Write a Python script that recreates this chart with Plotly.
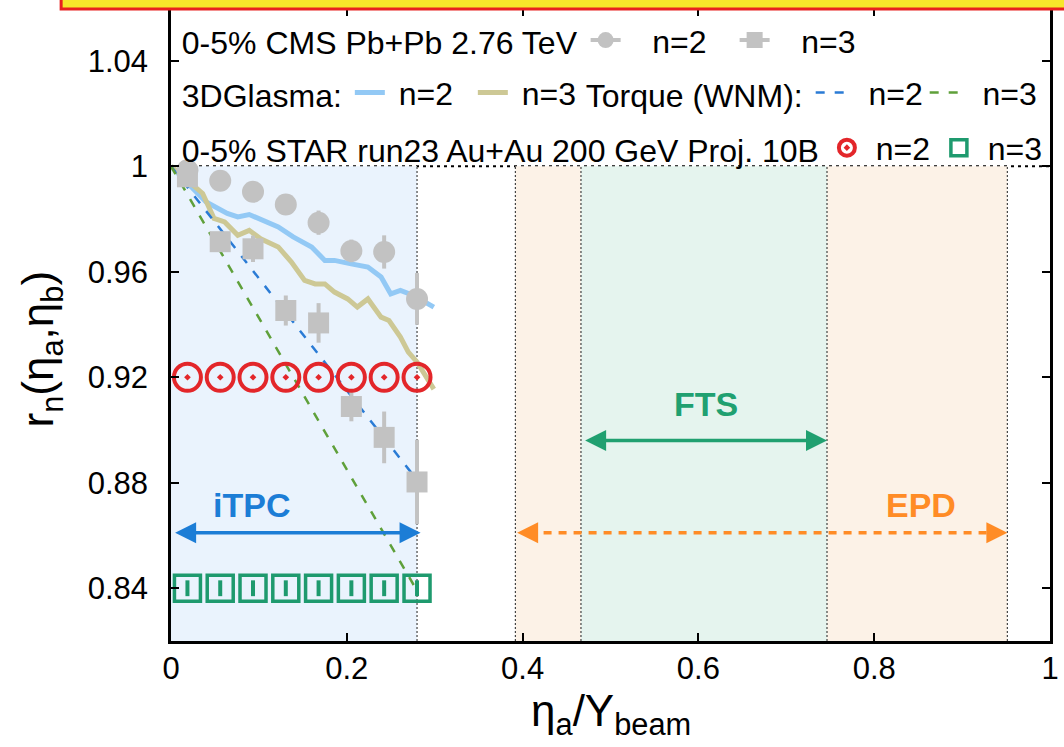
import plotly.graph_objects as go

# ---------------- data ----------------
eta_ratio = [0.0187, 0.0560, 0.0933, 0.1306, 0.1679, 0.2052, 0.2425, 0.2799]

cms_n2 = [0.9985, 0.9945, 0.9903, 0.9855, 0.9786, 0.9679, 0.9675, 0.9497]
cms_n2_err = [0.001, 0.001, 0.002, 0.002, 0.0046, 0.0043, 0.0063, 0.0098]
cms_n3 = [0.9960, 0.9714, 0.9687, 0.9453, 0.9406, 0.9089, 0.8972, 0.8803]
cms_n3_err = [0.002, 0.003, 0.005, 0.0057, 0.0075, 0.0056, 0.0098, 0.016]

star_n2 = [0.92, 0.92, 0.92, 0.92, 0.92, 0.92, 0.92, 0.92]
star_n3 = [0.84, 0.84, 0.84, 0.84, 0.84, 0.84, 0.84, 0.84]
star_n3_err = [0.003, 0.003, 0.003, 0.003, 0.003, 0.003, 0.003, 0.003]

glasma_n2_x = [0.0, 0.021, 0.040, 0.064, 0.076, 0.089, 0.108, 0.122, 0.139, 0.160,
               0.175, 0.186, 0.205, 0.224, 0.239, 0.250, 0.261, 0.276, 0.299]
glasma_n2_y = [1.0, 0.9929, 0.9865, 0.9821, 0.9808, 0.9817, 0.9789, 0.9770, 0.9732, 0.9694,
               0.9643, 0.9643, 0.9630, 0.9618, 0.9580, 0.9516, 0.9529, 0.9510, 0.9466]

glasma_n3_x = [0.0, 0.021, 0.036, 0.049, 0.061, 0.076, 0.089, 0.102, 0.122, 0.137, 0.152,
               0.164, 0.175, 0.186, 0.201, 0.212, 0.224, 0.239, 0.248, 0.261, 0.270, 0.280, 0.299]
glasma_n3_y = [1.0, 0.9941, 0.9897, 0.9802, 0.9789, 0.9738, 0.9757, 0.9725, 0.9694, 0.9637, 0.9567,
               0.9554, 0.9554, 0.9523, 0.9497, 0.9466, 0.9497, 0.9428, 0.9415, 0.9352, 0.9295, 0.9257, 0.9155]

torque_x = [0.0, 0.28]
torque_n2 = [1.0, 0.881]
torque_n3 = [1.0, 0.839]

# detector acceptance (eta / Y_beam)
itpc_range = [0.0, 0.2799]
epd_range = [0.3918, 0.9515]
fts_range = [0.4664, 0.7463]
itpc_arrow_y = 0.861
epd_arrow_y = 0.861
fts_arrow_y = 0.896
region_y = [0.82, 1.0]

# ---------------- style ----------------
FONT = "Liberation Sans, Arial, Helvetica, sans-serif"
GRAY = "#c2c2c2"
C_GL2 = "#93c9f5"
C_GL3 = "#cdc895"
C_TQ2 = "#2a7bd5"
C_TQ3 = "#5fa03a"
C_RED = "#e3262a"
C_GRN = "#1e9a6e"
C_ITPC = "#1c7dd6"
C_FTS = "#20a070"
C_EPD = "#ff8c26"
NB = "\u00a0"

fig = go.Figure()

# 3DGlasma
fig.add_trace(go.Scatter(x=glasma_n2_x, y=glasma_n2_y, mode="lines", name=NB + "n=2",
                         line=dict(color=C_GL2, width=5), legend="legend2"))
fig.add_trace(go.Scatter(x=glasma_n3_x, y=glasma_n3_y, mode="lines", name=NB + "n=3",
                         line=dict(color=C_GL3, width=5), legend="legend2"))
# Torque
fig.add_trace(go.Scatter(x=torque_x, y=torque_n2, mode="lines", name=NB * 2 + "n=2",
                         line=dict(color=C_TQ2, width=2.5, dash="9px,10px"), legend="legend3"))
fig.add_trace(go.Scatter(x=torque_x, y=torque_n3, mode="lines", name=NB * 2 + "n=3",
                         line=dict(color=C_TQ3, width=2.5, dash="9px,10px"), legend="legend3"))

# CMS data
fig.add_trace(go.Scatter(x=eta_ratio, y=cms_n2, mode="markers", showlegend=False,
                         marker=dict(symbol="circle", size=22, color=GRAY),
                         error_y=dict(type="data", array=cms_n2_err, color=GRAY, thickness=4, width=0)))
fig.add_trace(go.Scatter(x=eta_ratio, y=cms_n3, mode="markers", showlegend=False,
                         marker=dict(symbol="square", size=21, color=GRAY),
                         error_y=dict(type="data", array=cms_n3_err, color=GRAY, thickness=4, width=0)))
# CMS legend proxies
fig.add_trace(go.Scatter(x=[None], y=[None], mode="lines+markers", name=NB * 3 + "n=2", legend="legend",
                         line=dict(color=GRAY, width=4), marker=dict(symbol="circle", size=16, color=GRAY)))
fig.add_trace(go.Scatter(x=[None], y=[None], mode="lines+markers", name=NB * 3 + "n=3", legend="legend",
                         line=dict(color=GRAY, width=4), marker=dict(symbol="square", size=16, color=GRAY)))

# STAR projections
fig.add_trace(go.Scatter(x=eta_ratio, y=star_n2, mode="markers", name=NB + "n=2", legend="legend4",
                         marker=dict(symbol="circle-open-dot", size=27, color=C_RED,
                                     line=dict(width=4, color=C_RED))))
fig.add_trace(go.Scatter(x=eta_ratio, y=star_n3, mode="markers", name=NB + "n=3", legend="legend4",
                         marker=dict(symbol="square-open", size=26, color=C_GRN,
                                     line=dict(width=3.5, color=C_GRN)),
                         error_y=dict(type="data", array=star_n3_err, color=C_GRN, thickness=4, width=0)))

# ---------------- shapes ----------------
shapes = []
shapes.append(dict(type="rect", xref="x", yref="y", x0=itpc_range[0], x1=itpc_range[1],
                   y0=region_y[0], y1=region_y[1], fillcolor="#eaf3fd", line_width=0, layer="below"))
shapes.append(dict(type="rect", xref="x", yref="y", x0=epd_range[0], x1=fts_range[0],
                   y0=region_y[0], y1=region_y[1], fillcolor="#fcf2e7", line_width=0, layer="below"))
shapes.append(dict(type="rect", xref="x", yref="y", x0=fts_range[1], x1=epd_range[1],
                   y0=region_y[0], y1=region_y[1], fillcolor="#fcf2e7", line_width=0, layer="below"))
shapes.append(dict(type="rect", xref="x", yref="y", x0=fts_range[0], x1=fts_range[1],
                   y0=region_y[0], y1=region_y[1], fillcolor="#e5f4ee", line_width=0, layer="below"))
for xv in [itpc_range[1], epd_range[0], fts_range[0], fts_range[1], epd_range[1]]:
    shapes.append(dict(type="line", xref="x", yref="y", x0=xv, x1=xv, y0=region_y[0], y1=region_y[1],
                       line=dict(color="#444444", width=1.2, dash="2px,2px"), layer="below"))
shapes.append(dict(type="line", xref="paper", yref="y", x0=0, x1=1, y0=1.0, y1=1.0,
                   line=dict(color="black", width=2, dash="3px,4px"), layer="below"))
# EPD dashed arrow shaft
shapes.append(dict(type="line", xref="x", yref="y", x0=epd_range[0] + 0.015, x1=epd_range[1] - 0.015,
                   y0=epd_arrow_y, y1=epd_arrow_y, line=dict(color=C_EPD, width=3.5, dash="8px,7px")))
# cropped title box at the very top
shapes.append(dict(type="rect", xref="paper", yref="paper", x0=-0.125, x1=1.02, y0=0.9985, y1=1.02,
                   fillcolor="#f7e62a", line=dict(color="#e8211f", width=3)))

# ---------------- annotations ----------------
ann = []
arrow_common = dict(showarrow=True, text="", axref="x", ayref="y", arrowhead=2, arrowsize=1.2,
                    arrowwidth=3.5)
ann.append(dict(x=itpc_range[1] + 0.004, y=itpc_arrow_y, ax=itpc_range[0] + 0.003, ay=itpc_arrow_y,
                arrowside="end+start", arrowcolor=C_ITPC, **arrow_common))
ann.append(dict(x=fts_range[1], y=fts_arrow_y, ax=fts_range[0] + 0.003, ay=fts_arrow_y,
                arrowside="end+start", arrowcolor=C_FTS, **arrow_common))
ann.append(dict(x=epd_range[1], y=epd_arrow_y, ax=epd_range[1] - 0.022, ay=epd_arrow_y,
                arrowcolor=C_EPD, **arrow_common))
ann.append(dict(x=epd_range[0] + 0.002, y=epd_arrow_y, ax=epd_range[0] + 0.024, ay=epd_arrow_y,
                arrowcolor=C_EPD, **arrow_common))

ann.append(dict(x=0.092, y=0.8715, text="iTPC", showarrow=False,
                font=dict(family=FONT, size=34, color=C_ITPC, weight="bold")))
ann.append(dict(x=0.609, y=0.910, text="FTS", showarrow=False,
                font=dict(family=FONT, size=34, color=C_FTS, weight="bold")))
ann.append(dict(x=0.853, y=0.8715, text="EPD", showarrow=False,
                font=dict(family=FONT, size=34, color=C_EPD, weight="bold")))

ann.append(dict(xref="paper", yref="paper", x=-0.148, y=0.462, textangle=-90,
                text="r<sub>n</sub>(η<sub>a</sub>,η<sub>b</sub>)", showarrow=False,
                xanchor="center", yanchor="middle", font=dict(family=FONT, size=44, color="black")))
ann.append(dict(xref="paper", yref="paper", x=0.5, y=-0.115,
                text="η<sub>a</sub>/Y<sub>beam</sub>", showarrow=False,
                xanchor="center", yanchor="middle", font=dict(family=FONT, size=44, color="black")))

LEG_FONT = dict(family=FONT, size=32, color="black")


def leg(title, x, y, itemwidth=30, entrywidth=60):
    return dict(title=dict(text=title, side="left", font=LEG_FONT), orientation="h",
                x=x, y=y, xanchor="left", yanchor="middle", bgcolor="rgba(0,0,0,0)",
                font=LEG_FONT, itemwidth=itemwidth, entrywidth=entrywidth,
                entrywidthmode="pixels", borderwidth=0, tracegroupgap=0)


fig.update_layout(
    width=1064, height=747,
    margin=dict(l=171, r=5, t=6, b=106),
    paper_bgcolor="white", plot_bgcolor="white",
    font=dict(family=FONT, size=31, color="black"),
    xaxis=dict(range=[0, 1], tickvals=[0, 0.2, 0.4, 0.6, 0.8, 1],
               ticktext=["0", "0.2", "0.4", "0.6", "0.8", "1"],
               ticks="inside", ticklen=8, tickwidth=1.5, tickcolor="black",
               showline=True, linewidth=2.5, linecolor="black", mirror="ticks",
               showgrid=False, zeroline=False, tickfont=dict(size=31), ticklabelstandoff=-2,
               ticklabeloverflow="allow"),
    yaxis=dict(range=[0.82, 1.06], tickvals=[0.84, 0.88, 0.92, 0.96, 1.0, 1.04],
               ticktext=["0.84", "0.88", "0.92", "0.96", "1", "1.04"],
               ticks="inside", ticklen=8, tickwidth=1.5, tickcolor="black",
               showline=True, linewidth=2.5, linecolor="black", mirror="ticks",
               showgrid=False, zeroline=False, tickfont=dict(size=31), ticklabelstandoff=14),
    shapes=shapes,
    annotations=ann,
    legend=leg("0-5% CMS Pb+Pb 2.76 TeV", 0.01, 0.949, itemwidth=30, entrywidth=104),
    legend2=leg("3DGlasma:", 0.01, 0.866, itemwidth=30, entrywidth=78),
    legend3=leg("Torque (WNM):", 0.4696, 0.866, itemwidth=30, entrywidth=69),
    legend4=leg("0-5% STAR run23 Au+Au 200 GeV Proj. 10B", 0.01, 0.779, itemwidth=30, entrywidth=67),
)

fig.write_html("out.html")
